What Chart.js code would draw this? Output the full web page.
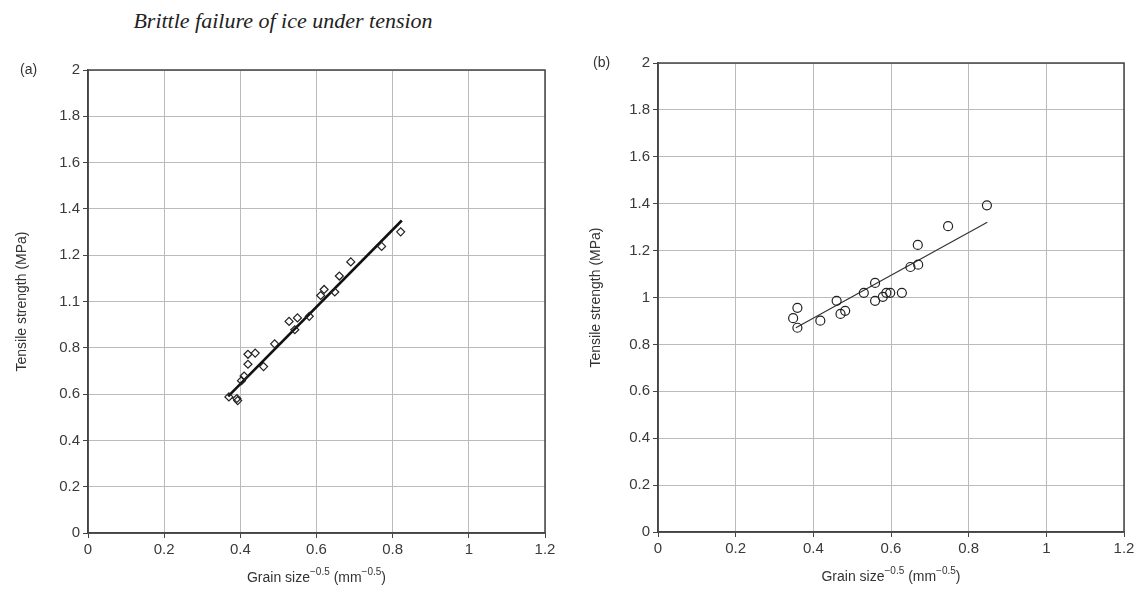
<!DOCTYPE html>
<html>
<head>
<meta charset="utf-8">
<script src="https://cdn.jsdelivr.net/npm/chart.js@4.4.1/dist/chart.umd.min.js"></script>
<style>
  body { margin: 0; background: #fff; }
  #wrap { position: relative; width: 1138px; height: 589px; }
  #title { position: absolute; left: 0; top: 8px; width: 566px; text-align: center;
    font-family: "Liberation Serif", serif; font-style: italic; font-size: 22px; color: #222; }
  canvas { position: absolute; top: 0; }
</style>
</head>
<body>
<div id="wrap">
  <div id="title">Brittle failure of ice under tension</div>
  <canvas id="chartA" width="569" height="589" style="left:0"></canvas>
  <canvas id="chartB" width="569" height="589" style="left:569px"></canvas>
</div>
<script>
// tick labels (panel a really prints "1.1" at the 1.0 gridline)
const xTickLabels = ["0", "0.2", "0.4", "0.6", "0.8", "1", "1.2"];
const yTickLabelsA = ["0", "0.2", "0.4", "0.6", "0.8", "1.1", "1.2", "1.4", "1.6", "1.8", "2"];
const yTickLabelsB = ["0", "0.2", "0.4", "0.6", "0.8", "1", "1.2", "1.4", "1.6", "1.8", "2"];

// panel (a) - diamonds
const grainA = [0.370, 0.391, 0.393, 0.403, 0.410, 0.420, 0.420, 0.439, 0.461, 0.490, 0.528,
  0.543, 0.550, 0.581, 0.611, 0.620, 0.648, 0.660, 0.690, 0.771, 0.821];
const strengthA = [0.588, 0.581, 0.572, 0.658, 0.678, 0.729, 0.772, 0.777, 0.719, 0.817, 0.914,
  0.878, 0.929, 0.936, 1.026, 1.052, 1.041, 1.110, 1.171, 1.238, 1.301];
const fitXA = [0.368, 0.824];
const fitYA = [0.59, 1.35];

// panel (b) - circles
const grainB = [0.348, 0.359, 0.359, 0.418, 0.460, 0.470, 0.482, 0.530, 0.559, 0.559,
  0.579, 0.588, 0.598, 0.628, 0.650, 0.670, 0.669, 0.747, 0.847];
const strengthB = [0.912, 0.956, 0.871, 0.901, 0.986, 0.930, 0.943, 1.020, 1.062, 0.986,
  1.003, 1.020, 1.020, 1.020, 1.130, 1.140, 1.224, 1.304, 1.393];
const fitXB = [0.355, 0.848];
const fitYB = [0.871, 1.321];

const toPts = (xs, ys) => xs.map((x, i) => ({ x: x, y: ys[i] }));

// box, panel letter and axis titles (with superscripts)
const extras = {
  id: "extras",
  afterDraw(chart, args, opts) {
    const ctx = chart.ctx;
    const a = chart.chartArea;
    ctx.save();
    ctx.strokeStyle = "#444";
    ctx.lineWidth = 1.5;
    ctx.strokeRect(a.left, a.top, a.right - a.left, a.bottom - a.top);

    ctx.fillStyle = "#333";
    ctx.font = "14px 'Liberation Sans', Arial, sans-serif";
    ctx.textBaseline = "middle";
    ctx.textAlign = "left";
    ctx.fillText(opts.letter, a.left - opts.letterDx, a.top);

    // y title
    ctx.save();
    ctx.translate(a.left - opts.yTitleDx, (a.top + a.bottom) / 2);
    ctx.rotate(-Math.PI / 2);
    ctx.textAlign = "center";
    ctx.fillText("Tensile strength (MPa)", 0, 0);
    ctx.restore();

    // x title
    const parts = [["Grain size", false], ["\u22120.5", true], [" (mm", false], ["\u22120.5", true], [")", false]];
    const big = "14px 'Liberation Sans', Arial, sans-serif";
    const small = "10px 'Liberation Sans', Arial, sans-serif";
    let w = 0;
    parts.forEach(p => { ctx.font = p[1] ? small : big; w += ctx.measureText(p[0]).width; });
    let x = (a.left + a.right) / 2 - w / 2;
    const y = a.bottom + 45;
    ctx.textAlign = "left";
    parts.forEach(p => {
      ctx.font = p[1] ? small : big;
      ctx.fillText(p[0], x, p[1] ? y - 6 : y);
      x += ctx.measureText(p[0]).width;
    });
    ctx.restore();
  }
};

function makeChart(id, pts, fit, yLabels, pointStyle, pointRadius, lineWidth, lineColor, box) {
  return new Chart(document.getElementById(id), {
    type: "scatter",
    data: {
      datasets: [
        {
          data: pts,
          pointStyle: pointStyle,
          pointRadius: pointRadius,
          pointBackgroundColor: "rgba(255,255,255,0)",
          pointBorderColor: "#222",
          pointBorderWidth: 1.2,
          showLine: false
        },
        {
          data: fit,
          showLine: true,
          pointRadius: 0,
          borderColor: lineColor,
          borderWidth: lineWidth
        }
      ]
    },
    options: {
      responsive: false,
      animation: false,
      layout: { padding: { left: 8, top: box.top, right: box.right, bottom: 0 } },
      plugins: {
        legend: { display: false },
        tooltip: { enabled: false },
        extras: { letter: box.letter, letterDx: box.letterDx, yTitleDx: box.yTitleDx }
      },
      scales: {
        x: {
          type: "linear",
          min: 0,
          max: 1.2,
          afterFit(s) { s.height = 589 - box.bottom; },
          ticks: {
            stepSize: 0.2,
            padding: 3,
            color: "#3a3a3a",
            font: { family: "'Liberation Sans', Arial, sans-serif", size: 15 },
            callback: (v, i) => xTickLabels[i]
          },
          grid: { color: "#bbbbbb", tickColor: "#444", tickLength: 5 },
          border: { color: "#444", width: 1.5 }
        },
        y: {
          type: "linear",
          min: 0,
          max: 2,
          afterFit(s) { s.width = box.left - 8; },
          ticks: {
            stepSize: 0.2,
            padding: 3,
            color: "#3a3a3a",
            font: { family: "'Liberation Sans', Arial, sans-serif", size: 15 },
            callback: (v, i) => yLabels[i]
          },
          grid: { color: "#bbbbbb", tickColor: "#444", tickLength: 5 },
          border: { color: "#444", width: 1.5 }
        }
      }
    },
    plugins: [extras]
  });
}

makeChart("chartA", toPts(grainA, strengthA), toPts(fitXA, fitYA), yTickLabelsA, "rectRot", 4, 2.6, "#111",
  { left: 88, top: 70, right: 24, bottom: 533, letter: "(a)", letterDx: 68, yTitleDx: 66 });
makeChart("chartB", toPts(grainB, strengthB), toPts(fitXB, fitYB), yTickLabelsB, "circle", 4.5, 1.2, "#333",
  { left: 89, top: 63, right: 14, bottom: 532, letter: "(b)", letterDx: 65, yTitleDx: 62 });
</script>
</body>
</html>
